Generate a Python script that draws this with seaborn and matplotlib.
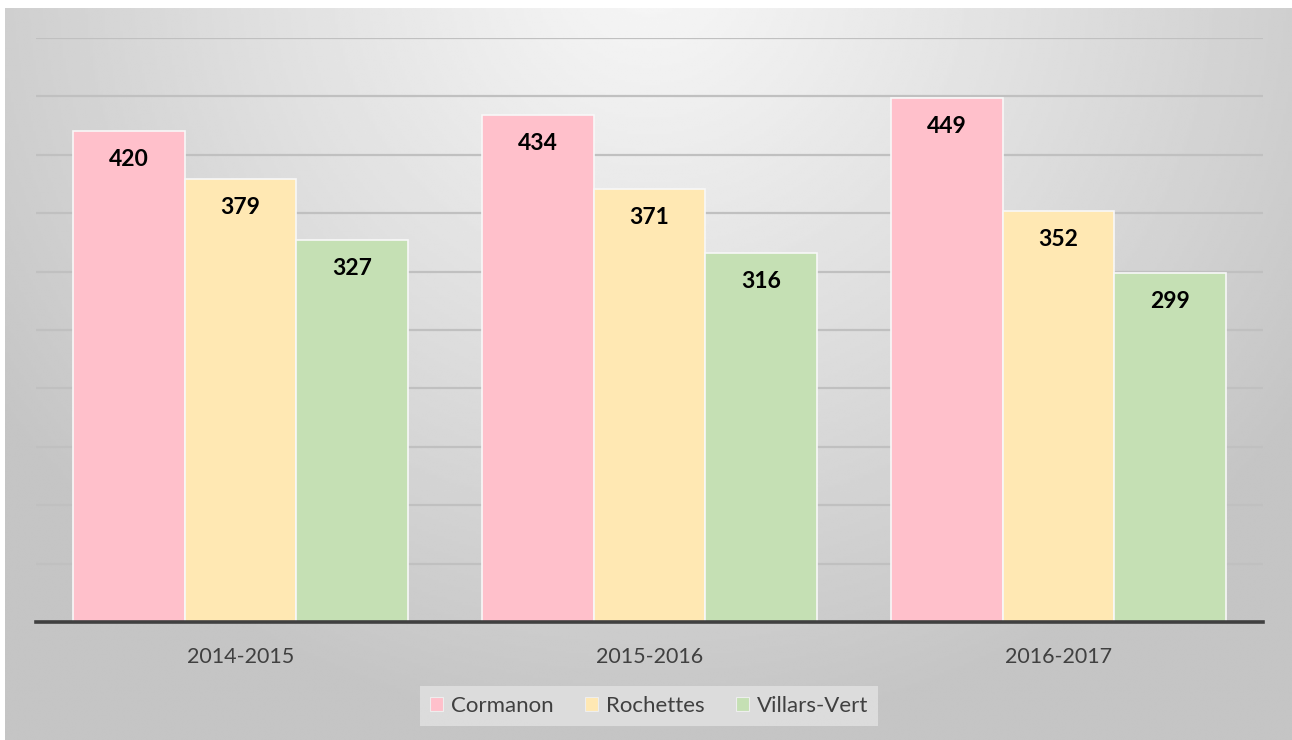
import numpy as np
import pandas as pd
import matplotlib
matplotlib.use("Agg")
import matplotlib.pyplot as plt
import seaborn as sns
from matplotlib.patches import Patch

categories = ["2014-2015", "2015-2016", "2016-2017"]
series_names = ["Cormanon", "Rochettes", "Villars-Vert"]
cormanon = [420, 434, 449]
rochettes = [379, 371, 352]
villars = [327, 316, 299]
colors = ["#FFC0CB", "#FFE8B3", "#C5E0B4"]

rows = []
for name, vals in zip(series_names, [cormanon, rochettes, villars]):
    for c, v in zip(categories, vals):
        rows.append({"Saison": c, "Site": name, "Valeur": v})
df = pd.DataFrame(rows)

sns.set_theme(style="white")
plt.rcParams["font.family"] = ["Lato", "DejaVu Sans"]

W, H = 1292, 740
fig = plt.figure(figsize=(W / 100, H / 100), dpi=100)
fig.patch.set_facecolor("white")

# gradient background
bg = fig.add_axes([5 / W, 0, (W - 5) / W, (H - 8) / H], zorder=0)
ny, nx = 300, 520
yy, xx = np.mgrid[0:ny, 0:nx]
cx, cy = nx * 0.5, -ny * 0.05
d = np.sqrt(((xx - cx) / (nx * 0.62)) ** 2 + ((yy - cy) / (ny * 1.05)) ** 2)
d = np.clip(d, 0, 1)
light, dark = 0.965, 0.77
img = light - (light - dark) * d ** 1.1
bg.imshow(img, cmap="gray", vmin=0, vmax=1, aspect="auto", extent=[0, 1, 0, 1], origin="upper", interpolation="bilinear")
bg.set_axis_off()

ax = fig.add_axes([36 / W, (H - 622) / H, (1263 - 36) / W, (622 - 38) / H], zorder=1)
ax.set_facecolor("none")
sns.barplot(data=df, x="Saison", y="Valeur", hue="Site", order=categories, hue_order=series_names,
            palette=colors, width=0.82, gap=0, edgecolor="#F8F8F8", linewidth=1.2, ax=ax, legend=False,
            saturation=1, zorder=3)

ax.set_ylim(0, 500)
ax.set_xlim(-0.5, 2.5)
ax.set_yticks(np.arange(50, 501, 50))
ax.yaxis.grid(True, color="#C0C0C0", linewidth=1.6, zorder=0)
ax.set_axisbelow(True)
ax.tick_params(axis="y", left=False, labelleft=False)
ax.tick_params(axis="x", bottom=False, labelsize=15.5, labelcolor="#404040", pad=12)
ax.set_xlabel("")
ax.set_ylabel("")
for s in ["top", "right", "left"]:
    ax.spines[s].set_visible(False)
ax.spines["bottom"].set_color("#404040")
ax.spines["bottom"].set_linewidth(2.6)
ax.spines["bottom"].set_zorder(5)

for cont in ax.containers:
    for bar in cont:
        h = bar.get_height()
        ax.annotate(f"{int(round(h))}", (bar.get_x() + bar.get_width() / 2, h),
                    xytext=(0, -20.5), textcoords="offset points", ha="center", va="center",
                    fontsize=16.5, fontweight="bold", color="black", zorder=6)

handles = [Patch(facecolor=c, edgecolor="#EEEEEE", linewidth=0.8) for c in colors]
leg = fig.legend(handles, series_names, loc="center", bbox_to_anchor=(649 / W, 1 - 706 / H), ncol=3,
                 frameon=True, fontsize=16, handlelength=0.6, handleheight=0.6, handletextpad=0.35,
                 columnspacing=1.4, borderpad=0.45, fancybox=False)
leg.get_frame().set_facecolor("#E2E2E2")
leg.get_frame().set_edgecolor("none")
leg.get_frame().set_alpha(0.8)
for t in leg.get_texts():
    t.set_color("#404040")

fig.savefig("out.png", dpi=100)
